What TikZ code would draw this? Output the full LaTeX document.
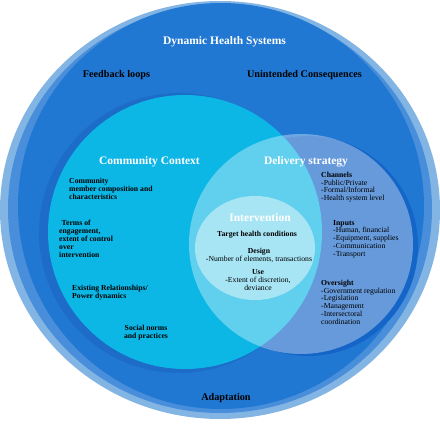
\documentclass[tikz,border=0pt]{standalone}
\usepackage{fontspec}
\setmainfont{Liberation Serif}
\usetikzlibrary{positioning}
\definecolor{halolight}{RGB}{130,180,228}
\definecolor{halomid}{RGB}{72,142,218}
\definecolor{sysblue}{RGB}{33,120,210}
\definecolor{ccring}{RGB}{28,108,200}
\definecolor{ccfill}{RGB}{12,183,230}
\definecolor{dsring}{RGB}{21,101,200}
\tikzset{
  title/.style={inner sep=0pt, text=white, font=\fontsize{11.5}{12}\selectfont\bfseries},
  tag/.style={inner sep=0pt, text=black, font=\fontsize{10.2}{11}\selectfont\bfseries},
  blurb/.style={inner sep=0pt, text=black, align=left, font=\fontsize{7.7}{7.8}\selectfont\bfseries},
  items/.style={inner sep=0pt, text=black, align=left, font=\fontsize{7.7}{7.7}\selectfont},
  middle/.style={inner sep=0pt, text=black, align=center, font=\fontsize{7.7}{8}\selectfont}
}

\begin{document}
\begin{tikzpicture}[x=1pt,y=-1pt]
    \useasboundingbox (0,0) rectangle (440,425);

    % the system rings
    \fill[halolight] (220,210) ellipse [x radius=220pt, y radius=209pt];
    \fill[halomid] (220,209) ellipse [x radius=212pt, y radius=204pt];
    \fill[sysblue] (221,206) ellipse [x radius=203pt, y radius=203pt];

    % community context and delivery strategy
    \fill[ccring] (179,233) circle [radius=140pt];
    \fill[dsring] (308,246) circle [radius=110pt];
    \fill[ccfill] (185,232) circle [radius=137pt];
    \fill[white, fill opacity=0.35] (301,244) ellipse [x radius=112pt, y radius=110pt];
    \fill[white, fill opacity=0.45] (255,248) ellipse [x radius=60pt, y radius=52pt];

    \node[title] (System) at (224.5,42) {Dynamic Health Systems};
    \node[tag] (Feedback) at (116.5,75) {Feedback loops};
    \node[tag] (Unintended) at (304.5,75) {Unintended Consequences};
    \node[tag] (Adapt) at (226,398) {Adaptation};

    \node[title] (Context) at (149.5,162) {Community Context};
    \node[blurb, anchor=north west] (Members) at (69,178)
        {Community\\member composition and\\characteristics};
    \node[blurb, anchor=north west, font=\fontsize{7.7}{8}\selectfont\bfseries] (Terms) at (59,219.5)
        {\hspace*{2.5pt}Terms of\\engagement,\\extent of control\\over\\intervention};
    \node[blurb, anchor=north west] (Power) at (72,285)
        {Existing Relationships/\\Power dynamics};
    \node[blurb, anchor=north, align=center] (Norms) at (146,325)
        {Social norms\\and practices};

    \node[title] (Delivery) at (306,162) {Delivery strategy};
    \node[items, anchor=north west] (Channels) at (321,172)
        {\textbf{Channels}\\-Public/Private\\-Formal/Informal\\-Health system level};
    \node[items, anchor=north west] (Inputs) at (333,220)
        {\textbf{Inputs}\\-Human, financial\\-Equipment, supplies\\-Communication\\-Transport};
    \node[items, anchor=north west] (Oversight) at (321,280)
        {\textbf{Oversight}\\-Government regulation\\-Legislation\\-Management\\-Intersectoral\\coordination};

    \node[title] (Interv) at (260,218) {Intervention};
    \node[middle, font=\fontsize{7.7}{8}\selectfont\bfseries] (Target) at (257,235) {Target health conditions};
    \node[middle, anchor=north] (Design) at (259,248)
        {\textbf{Design}\\-Number of elements, transactions};
    \node[middle, anchor=north] (Use) at (258,269)
        {\textbf{Use}\\-Extent of discretion,\\deviance};
\end{tikzpicture}
\end{document}
